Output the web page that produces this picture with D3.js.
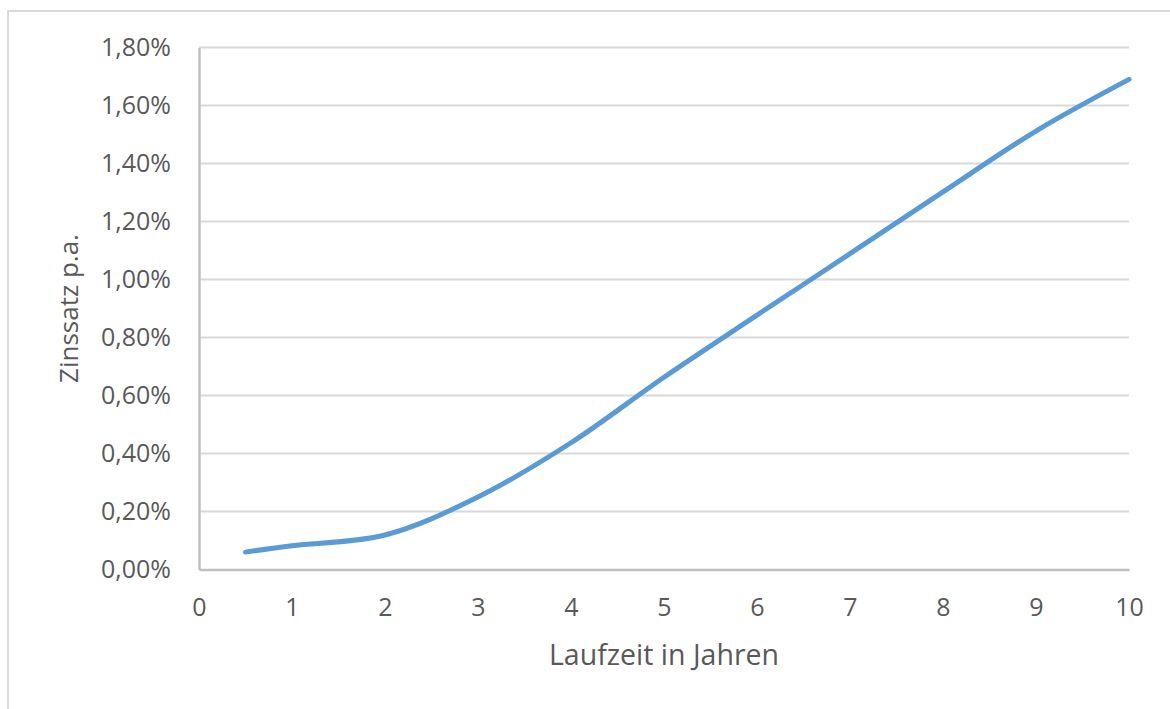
<!DOCTYPE html>
<html>
<head>
<meta charset="utf-8">
<script src="https://cdn.jsdelivr.net/npm/d3@7/dist/d3.min.js"></script>
<style>
  html, body { margin: 0; padding: 0; background: #fff; }
  svg { display: block; }
  text { font-family: "Open Sans", "DejaVu Sans", sans-serif; fill: #595959; }
</style>
</head>
<body>
<svg id="chart" width="1170" height="709"></svg>
<script>
// Zinsstrukturkurve: Laufzeit (Jahre) gegen Zinssatz p.a. (in %)
const laufzeit = [0.5, 1, 2, 3, 4, 5, 6, 7, 8, 9, 10];
const zinssatz = [0.060, 0.082, 0.119, 0.250, 0.437, 0.663, 0.877, 1.089, 1.302, 1.512, 1.690];
const xTicks = [0, 1, 2, 3, 4, 5, 6, 7, 8, 9, 10];
const yTicks = [0, 0.2, 0.4, 0.6, 0.8, 1.0, 1.2, 1.4, 1.6, 1.8];
const xTitle = "Laufzeit in Jahren";
const yTitle = "Zinssatz p.a.";

const svg = d3.select("#chart");
const W = 1170, H = 709;
const plot = { left: 199, right: 1129, top: 47.5, bottom: 569.5 };

const x = d3.scaleLinear().domain([0, 10]).range([plot.left, plot.right]);
const y = d3.scaleLinear().domain([0, 1.8]).range([plot.bottom, plot.top]);

const fmt = v => d3.format(".2f")(v).replace(".", ",") + "%";

// Outer chart frame
svg.append("rect")
  .attr("x", 8).attr("y", 11)
  .attr("width", W + 20).attr("height", H + 20)
  .attr("fill", "none").attr("stroke", "#d9d9d9").attr("stroke-width", 2);

// Horizontal gridlines
svg.append("g")
  .selectAll("line")
  .data(yTicks.filter(d => d > 0))
  .join("line")
  .attr("x1", plot.left).attr("x2", plot.right)
  .attr("y1", d => y(d)).attr("y2", d => y(d))
  .attr("stroke", "#d9d9d9").attr("stroke-width", 2);

// Y axis
const yAxis = svg.append("g")
  .attr("transform", `translate(${plot.left},0)`)
  .call(d3.axisLeft(y).tickValues(yTicks).tickFormat(fmt).tickSize(0).tickPadding(28));
yAxis.select(".domain").attr("stroke", "#bfbfbf").attr("stroke-width", 2.5);
yAxis.selectAll("text")
  .attr("font-size", 25).attr("fill", "#595959")
  .style("font-family", '"Open Sans", "DejaVu Sans", sans-serif');

// X axis
const xAxis = svg.append("g")
  .attr("transform", `translate(0,${plot.bottom})`)
  .call(d3.axisBottom(x).tickValues(xTicks).tickFormat(d => d).tickSize(0).tickPadding(29));
xAxis.select(".domain").attr("stroke", "#bfbfbf").attr("stroke-width", 2.5);
xAxis.selectAll("text")
  .attr("font-size", 25).attr("fill", "#595959")
  .style("font-family", '"Open Sans", "DejaVu Sans", sans-serif');

// Axis titles
svg.append("text")
  .attr("x", (plot.left + plot.right) / 2).attr("y", 665)
  .attr("text-anchor", "middle").attr("font-size", 28.5)
  .text(xTitle);

svg.append("text")
  .attr("transform", `translate(78,${(plot.top + plot.bottom) / 2}) rotate(-90)`)
  .attr("text-anchor", "middle").attr("font-size", 26)
  .text(yTitle);

// Yield curve
const data = laufzeit.map((t, i) => ({ t, r: zinssatz[i] }));
const line = d3.line()
  .x(d => x(d.t))
  .y(d => y(d.r))
  .curve(d3.curveCatmullRom.alpha(0.5));

svg.append("path")
  .datum(data)
  .attr("d", line)
  .attr("fill", "none")
  .attr("stroke", "#5b9bd5")
  .attr("stroke-width", 5)
  .attr("stroke-linecap", "round")
  .attr("stroke-linejoin", "round");
</script>
</body>
</html>
